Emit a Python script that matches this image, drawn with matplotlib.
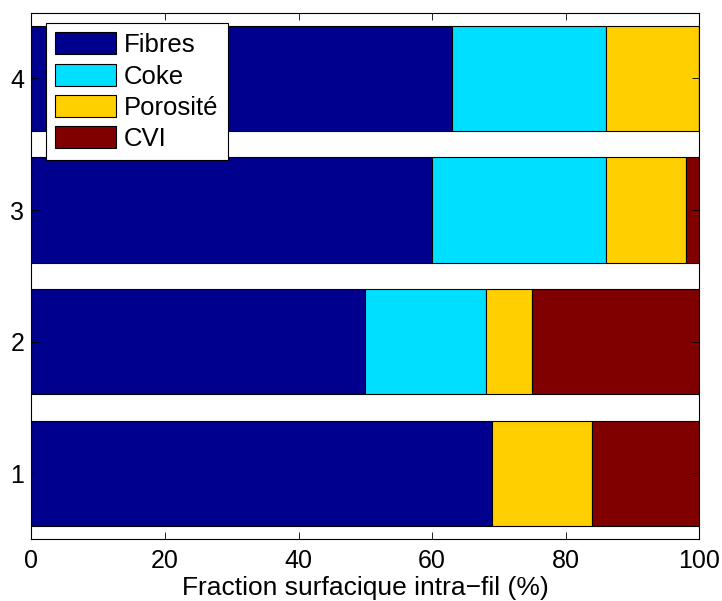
import numpy as np
import matplotlib.pyplot as plt

plt.rcParams['font.family'] = ['Liberation Sans', 'DejaVu Sans']

# data (% of intra-yarn surface)
samples = [1, 2, 3, 4]
fibres = [69, 50, 60, 63]
coke = [0, 18, 26, 23]
porosite = [15, 7, 12, 14]
cvi = [16, 25, 2, 0]

labels = ['Fibres', 'Coke', 'Porosité', 'CVI']
colors = ['#00008F', '#00DFFF', '#FFCF00', '#800000']

fig = plt.figure(figsize=(7.22, 6.01), dpi=100)
ax = fig.add_axes([31.3/722, 1 - 539/601, (699.3-31.3)/722, (539-12.7)/601])

left = np.zeros(len(samples))
for vals, lab, col in zip([fibres, coke, porosite, cvi], labels, colors):
    ax.barh(samples, vals, left=left, height=0.8, color=col,
            edgecolor='black', linewidth=0.8, label=lab)
    left += np.array(vals)

ax.set_xlim(0, 100)
ax.set_ylim(0.5, 4.5)
ax.set_xticks([0, 20, 40, 60, 80, 100])
ax.set_yticks(samples)
ax.tick_params(direction='in', top=True, right=True, labelsize=18, length=5, width=0.6)
ax.tick_params(axis='x', pad=7)
ax.tick_params(axis='y', pad=5)
ax.set_xlabel('Fraction surfacique intra\u2212fil (%)', fontsize=19, labelpad=2.5)
for s in ax.spines.values():
    s.set_linewidth(0.8)

leg = ax.legend(loc='upper left', fontsize=18.5, frameon=True, fancybox=False,
                edgecolor='black', framealpha=1, handlelength=2.4, handleheight=0.95,
                bbox_to_anchor=(14.4/668, 1 - 10.6/526), borderaxespad=0,
                labelspacing=0.25, handletextpad=0.3, borderpad=0.35)
leg.get_frame().set_linewidth(0.8)

fig.savefig('out.png', dpi=100)
